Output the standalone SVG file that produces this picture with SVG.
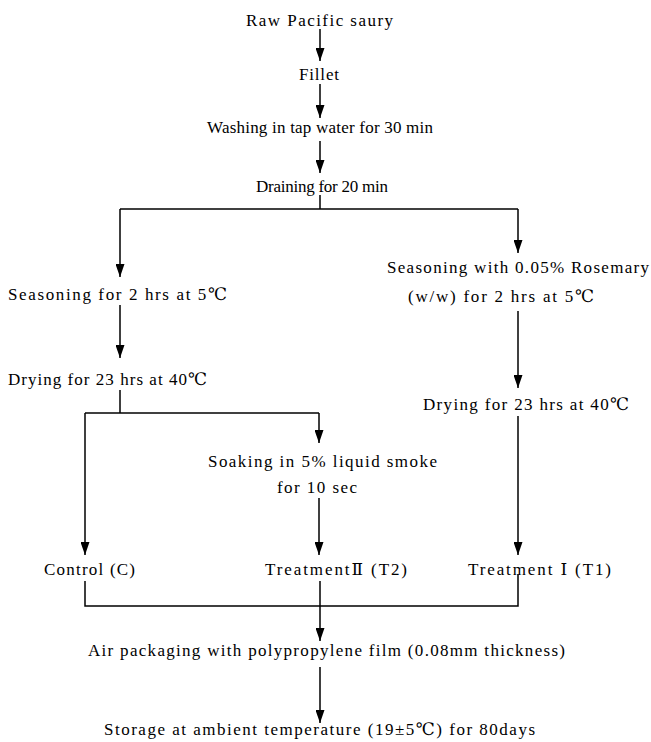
<svg xmlns="http://www.w3.org/2000/svg" width="651" height="742" viewBox="0 0 651 742">
<defs>
<marker id="ah" viewBox="0 0 13 9" refX="13" refY="4.5" markerWidth="13" markerHeight="9" markerUnits="userSpaceOnUse" orient="auto">
<path d="M0,0 L13,4.5 L0,9 z" fill="#000"/>
</marker>
<style>
text{font-family:"Liberation Serif","DejaVu Serif","Noto Sans CJK KR",serif;font-size:17px;fill:#000}
.c{fill:none;stroke:#000;stroke-width:1.5}
.a{fill:none;stroke:#000;stroke-width:1.5;marker-end:url(#ah)}
</style>
</defs>
<rect width="651" height="742" fill="#fff"/>
<g id="n-raw"><text x="246" y="26" textLength="147" lengthAdjust="spacing">Raw Pacific saury</text></g>
<g id="n-fillet"><text x="299" y="80" textLength="40" lengthAdjust="spacing">Fillet</text></g>
<g id="n-washing"><text x="207" y="133" textLength="226" lengthAdjust="spacing">Washing in tap water for 30 min</text></g>
<g id="n-draining"><text x="256" y="192" textLength="132" lengthAdjust="spacing">Draining for 20 min</text></g>
<g id="n-season-left"><text x="8" y="300" textLength="219" lengthAdjust="spacing">Seasoning for 2 hrs at 5℃</text></g>
<g id="n-season-right"><text x="387" y="273" textLength="262" lengthAdjust="spacing">Seasoning with 0.05% Rosemary</text><text x="408" y="302" textLength="186" lengthAdjust="spacing">(w/w) for 2 hrs at 5℃</text></g>
<g id="n-dry-left"><text x="8" y="385" textLength="199" lengthAdjust="spacing">Drying for 23 hrs at 40℃</text></g>
<g id="n-dry-right"><text x="423" y="410" textLength="206" lengthAdjust="spacing">Drying for 23 hrs at 40℃</text></g>
<g id="n-soak"><text x="208" y="467" textLength="229" lengthAdjust="spacing">Soaking in 5% liquid smoke</text><text x="277" y="493" textLength="80" lengthAdjust="spacing">for 10 sec</text></g>
<g id="n-control"><text x="44" y="575" textLength="91" lengthAdjust="spacing">Control (C)</text></g>
<g id="n-t2"><text x="265" y="575" textLength="142" lengthAdjust="spacing">TreatmentⅡ (T2)</text></g>
<g id="n-t1"><text x="468" y="575" textLength="143" lengthAdjust="spacing">Treatment Ⅰ (T1)</text></g>
<g id="n-air"><text x="88" y="656" textLength="477" lengthAdjust="spacing">Air packaging with polypropylene film (0.08mm thickness)</text></g>
<g id="n-storage"><text x="104" y="735" textLength="431" lengthAdjust="spacing">Storage at ambient temperature (19±5℃) for 80days</text></g>
<g id="connectors">
<line class="a" x1="320" y1="29" x2="320" y2="61"/>
<line class="a" x1="320" y1="84" x2="320" y2="118"/>
<line class="a" x1="320" y1="141" x2="320" y2="173"/>
<polyline class="c" points="320,195 320,209"/>
<polyline class="c" points="120,209 518,209"/>
<line class="a" x1="120" y1="209" x2="120" y2="277"/>
<line class="a" x1="518" y1="209" x2="518" y2="253"/>
<line class="a" x1="120" y1="305" x2="120" y2="358"/>
<line class="a" x1="518" y1="311" x2="518" y2="388"/>
<polyline class="c" points="120,390 120,413"/>
<polyline class="c" points="85,413 319,413"/>
<line class="a" x1="319" y1="413" x2="319" y2="443"/>
<line class="a" x1="85" y1="413" x2="85" y2="555"/>
<line class="a" x1="319" y1="498" x2="319" y2="555"/>
<line class="a" x1="518" y1="416" x2="518" y2="555"/>
<polyline class="c" points="85,581 85,606 518,606 518,574"/>
<line class="a" x1="320" y1="581" x2="320" y2="641"/>
<line class="a" x1="320" y1="667" x2="320" y2="723"/>
</g>
</svg>
